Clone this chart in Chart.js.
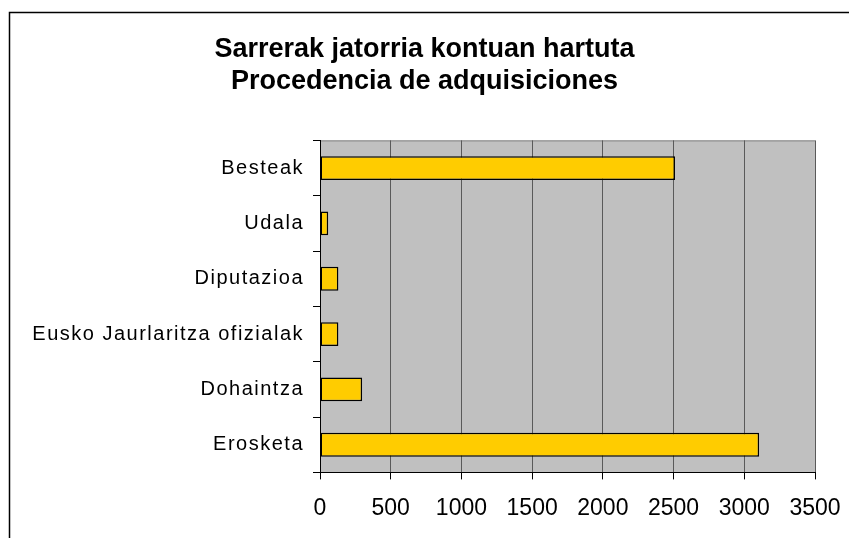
<!DOCTYPE html>
<html>
<head>
<meta charset="utf-8">
<script src="https://cdn.jsdelivr.net/npm/chart.js@4"></script>
<style>
  body { margin: 0; background: #fff; }
  #wrap { width: 849px; height: 538px; position: relative; }
</style>
</head>
<body>
<div id="wrap"><canvas id="grafikoa"></canvas></div>
<script>
// datuak
var kategoriak = ['Besteak', 'Udala', 'Diputazioa', 'Eusko Jaurlaritza ofizialak', 'Dohaintza', 'Erosketa'];
var balioak = [2510, 58, 130, 130, 298, 3105];
var tituluak = ['Sarrerak jatorria kontuan hartuta', 'Procedencia de adquisiciones'];
var xMin = 0, xMax = 3500, xPausoa = 500;

// plot area gray + outer frame
var atzealdea = {
    id: 'atzealdea',
    beforeDraw: function(chart) {
        var ctx = chart.ctx, a = chart.chartArea;
        ctx.save();
        ctx.strokeStyle = '#000';
        ctx.lineWidth = 1.5;
        ctx.beginPath();
        ctx.moveTo(9.5, 540);
        ctx.lineTo(9.5, 12.5);
        ctx.lineTo(852, 12.5);
        ctx.stroke();
        ctx.fillStyle = '#C0C0C0';
        ctx.fillRect(a.left, a.top, a.right - a.left, a.bottom - a.top);
        ctx.strokeStyle = '#808080';
        ctx.lineWidth = 1;
        ctx.beginPath();
        ctx.moveTo(a.left, a.top + 0.5);
        ctx.lineTo(a.right, a.top + 0.5);
        ctx.stroke();
        ctx.restore();
    },
    afterLayout: function(chart) {
        // category labels are letter-spaced in the original
        var s = chart.scales.y;
        if (s && !s._tarteak) {
            var jatorrizkoa = s.drawLabels;
            s.drawLabels = function(area) {
                var c = this.ctx;
                c.save();
                c.letterSpacing = '1.5px';
                jatorrizkoa.call(this, area);
                c.restore();
            };
            s._tarteak = true;
        }
    }
};

var ctx = document.getElementById('grafikoa').getContext('2d');
var grafikoa = new Chart(ctx, {
    type: 'bar',
    data: {
        labels: kategoriak,
        datasets: [{
            data: balioak,
            backgroundColor: '#FFCC00',
            borderColor: '#000',
            borderWidth: 1.5,
            borderSkipped: false,
            barPercentage: 0.43,
            categoryPercentage: 1
        }]
    },
    options: {
        indexAxis: 'y',
        responsive: true,
        maintainAspectRatio: false,
        animation: false,
        layout: {
            padding: { left: 0, right: 0, top: 0, bottom: 1 }
        },
        plugins: {
            legend: { display: false },
            tooltip: { enabled: false },
            title: {
                display: true,
                text: tituluak,
                color: '#000',
                font: { family: 'Liberation Sans, Arial, sans-serif', size: 27, weight: 'bold', lineHeight: 1.174 },
                padding: { top: 34, bottom: 43 }
            }
        },
        scales: {
            x: {
                min: xMin,
                max: xMax,
                ticks: {
                    stepSize: xPausoa,
                    color: '#000',
                    padding: 15,
                    maxRotation: 0,
                    minRotation: 0,
                    autoSkip: false,
                    font: { family: 'Liberation Sans, Arial, sans-serif', size: 23 },
                    callback: function(v) { return String(v); }
                },
                grid: {
                    color: '#5a5a5a',
                    tickColor: '#000',
                    tickLength: 7,
                    lineWidth: 1
                },
                border: { color: '#000', width: 1 },
                afterFit: function(scale) {
                    scale.paddingLeft = 0;
                    scale.paddingRight = 34;
                }
            },
            y: {
                ticks: {
                    color: '#000',
                    padding: 9,
                    font: { family: 'Liberation Sans, Arial, sans-serif', size: 20 }
                },
                grid: {
                    drawOnChartArea: false,
                    drawTicks: true,
                    tickLength: 7,
                    color: '#000'
                },
                border: { color: '#000', width: 1 },
                afterFit: function(scale) {
                    scale.width = 320;
                }
            }
        }
    },
    plugins: [atzealdea]
});
</script>
</body>
</html>
